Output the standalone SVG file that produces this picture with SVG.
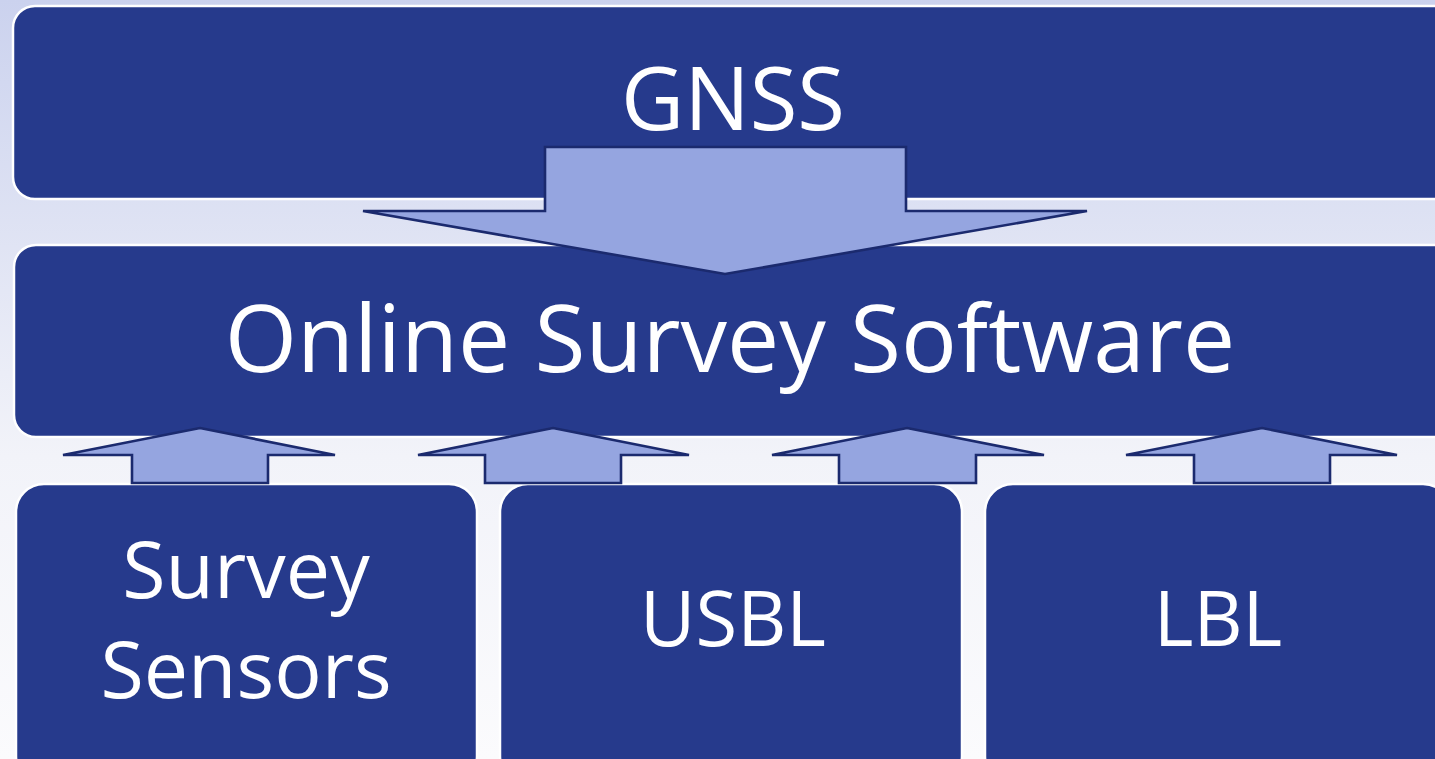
<svg xmlns="http://www.w3.org/2000/svg" width="1435" height="759" viewBox="0 0 1435 759">
<defs>
<linearGradient id="bg" x1="0" y1="0" x2="0" y2="1">
<stop offset="0" stop-color="#cbd2ee"/>
<stop offset="0.6" stop-color="#f2f3f9"/>
<stop offset="1" stop-color="#fbfbfd"/>
</linearGradient>
<style>
.box{fill:#263a8c;stroke:#ffffff;stroke-width:2.5}
.arr{fill:#95a5e0;stroke:#1b2a6e;stroke-width:2.6;stroke-linejoin:miter}
.t{fill:#ffffff;font-family:"Open Sans","Noto Sans",sans-serif;text-anchor:middle}
</style>
</defs>
<rect x="0" y="0" width="1435" height="759" fill="url(#bg)"/>
<g id="gnss">
<rect class="box" x="13" y="6" width="1450" height="193" rx="22"/>
<text class="t" x="733" y="130" font-size="87">GNSS</text>
</g>
<g id="online-survey-software">
<rect class="box" x="14" y="245" width="1450" height="192" rx="22"/>
<text class="t" x="730" y="372" font-size="93">Online Survey Software</text>
</g>
<g id="survey-sensors">
<rect class="box" x="16" y="484" width="461" height="300" rx="28"/>
<text class="t" x="246" y="598" font-size="79">Survey</text>
<text class="t" x="246" y="698" font-size="79">Sensors</text>
</g>
<g id="usbl">
<rect class="box" x="500" y="484" width="462" height="300" rx="28"/>
<text class="t" x="733" y="646" font-size="76">USBL</text>
</g>
<g id="lbl">
<rect class="box" x="985" y="484" width="466" height="300" rx="28"/>
<text class="t" x="1218" y="646" font-size="76">LBL</text>
</g>
<g id="connectors">
<polygon class="arr" points="545,147 906,147 906,211 1087,211 725,274 363,211 545,211"/>
<polygon class="arr" points="200,428 335,455 268,455 268,483 132,483 132,455 63,455"/>
<polygon class="arr" points="553,428 689,455 621,455 621,483 485,483 485,455 418,455"/>
<polygon class="arr" points="907,428 1044,455 976,455 976,483 839,483 839,455 772,455"/>
<polygon class="arr" points="1262,428 1397,455 1330,455 1330,483 1194,483 1194,455 1126,455"/>
</g>
</svg>
